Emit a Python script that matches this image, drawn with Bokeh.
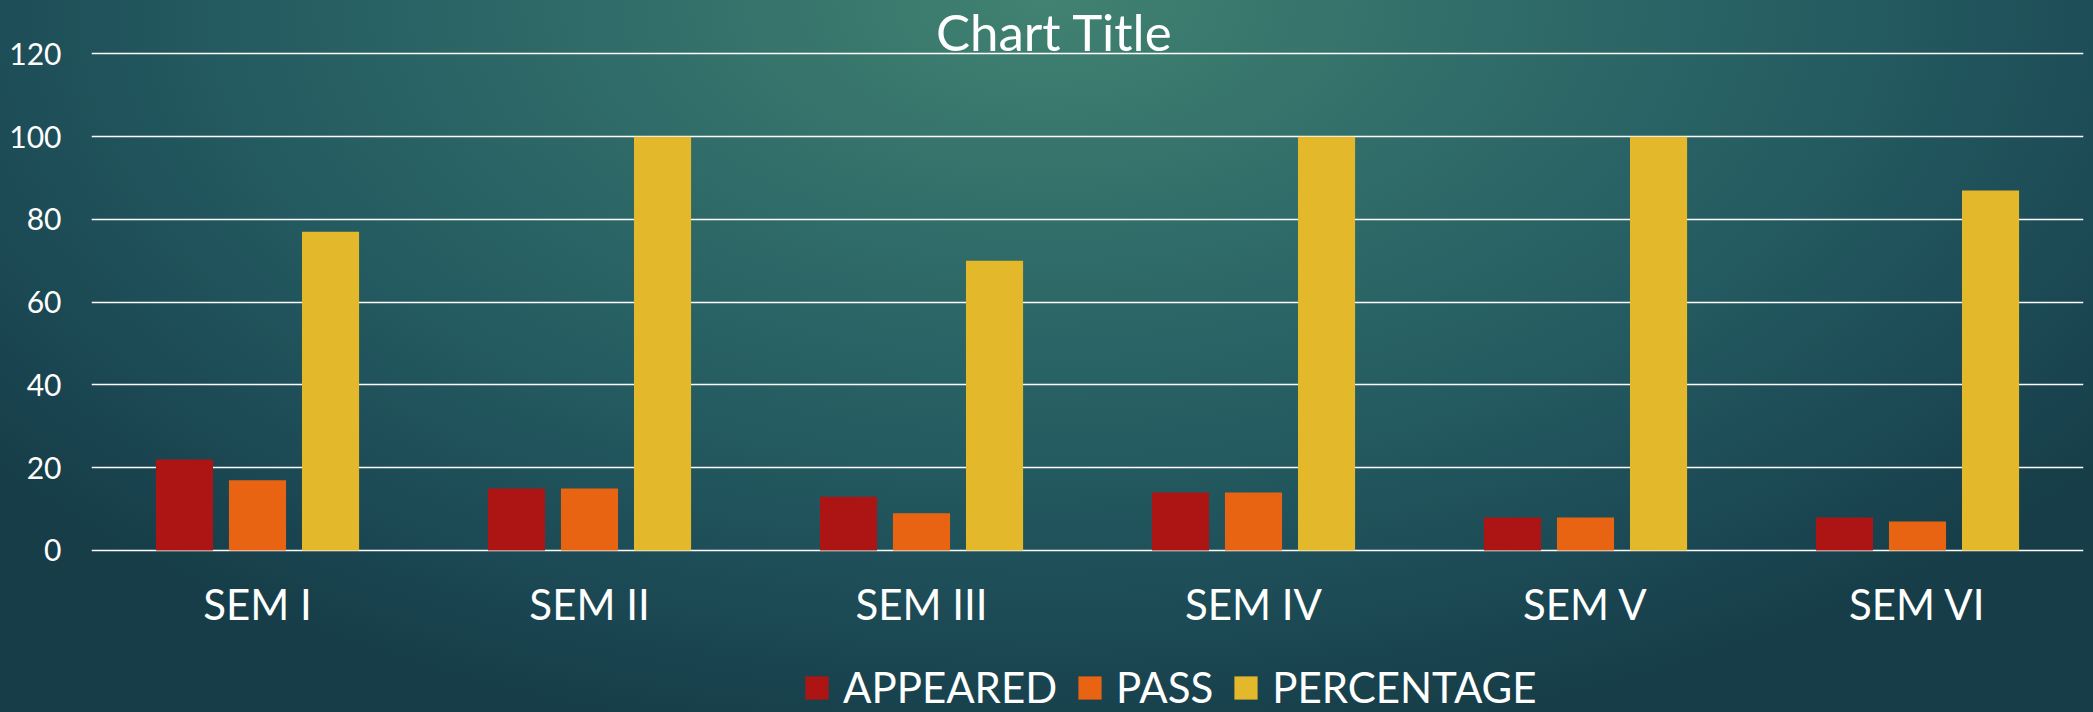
from bokeh.plotting import figure
from bokeh.models import (FactorRange, Range1d, FixedTicker, ColumnDataSource, Legend,
                          LegendItem, Label, GlobalInlineStyleSheet)
from bokeh.transform import dodge
from bokeh.embed import file_html
from bokeh.resources import INLINE

# ---- data ----
semesters = ["SEM I", "SEM II", "SEM III", "SEM IV", "SEM V", "SEM VI"]
appeared = [22, 15, 13, 14, 8, 8]
passed = [17, 15, 9, 14, 8, 7]
percentage = [77, 100, 70, 100, 100, 87]
series_names = ["APPEARED", "PASS", "PERCENTAGE"]
series_colors = ["#AD1515", "#E86412", "#E4B82B"]
y_ticks = [0, 20, 40, 60, 80, 100, 120]
title_text = "Chart Title"

FONT = "Lato"
W, H = 2093, 712

src = ColumnDataSource(dict(sem=semesters, appeared=appeared, passed=passed, percentage=percentage))

# frame spans the full lower area; the category axis is pinned at y = 0
p = figure(width=W, height=H,
           x_range=FactorRange(factors=semesters, range_padding=0),
           y_range=Range1d(-39.15, 130),
           output_backend="svg", toolbar_location=None,
           min_border_left=91, min_border_right=10, min_border_top=12, min_border_bottom=0)

p.stylesheets.append(GlobalInlineStyleSheet(css="""
html { background: radial-gradient(ellipse 1350px 760px at 50% 0%, #418271 0%, #306c69 33%, #245b61 60%, #1b4853 85%, #163d48 100%) !important; min-height: 100%; }
body { background: transparent !important; }
"""))

p.background_fill_alpha = 0
p.border_fill_alpha = 0
p.outline_line_color = None

cols = ["appeared", "passed", "percentage"]
offsets = [-0.22, 0.0, 0.22]
renderers = []
for c, off, col in zip(cols, offsets, series_colors):
    r = p.vbar(x=dodge("sem", off, range=p.x_range), top=c, bottom=0, width=0.172, source=src,
               fill_color=col, line_color=None)
    renderers.append(r)

# grid
p.xgrid.grid_line_color = None
p.ygrid.grid_line_color = "white"
p.ygrid.grid_line_width = 1.6
p.yaxis.ticker = FixedTicker(ticks=y_ticks)
p.ygrid.ticker = FixedTicker(ticks=y_ticks)

for ax in (p.xaxis[0], p.yaxis[0]):
    ax.axis_line_color = None
    ax.major_tick_line_color = None
    ax.minor_tick_line_color = None
    ax.major_tick_out = 0
    ax.major_tick_in = 0
    ax.major_label_text_color = "white"
    ax.major_label_text_font = FONT

p.xaxis.fixed_location = 0
p.xaxis.major_label_text_font_size = "42px"
p.xaxis.major_label_standoff = 29
p.yaxis.major_label_text_font_size = "30px"
p.yaxis.major_label_standoff = 30

# title
p.add_layout(Label(x=963, y=681, x_units="screen", y_units="screen", text=title_text,
                   text_align="center", text_baseline="alphabetic",
                   text_font=FONT, text_font_size="51px", text_color="white"))

# legend
items = [LegendItem(label=n, renderers=[r]) for n, r in zip(series_names, renderers)]
legend = Legend(items=items, orientation="horizontal", location=(711, 0),
                glyph_width=29, glyph_height=29, label_standoff=12, spacing=18,
                padding=0, margin=0, border_line_color=None, background_fill_alpha=0,
                label_text_color="white", label_text_font=FONT, label_text_font_size="42px")
p.add_layout(legend)

open("out.html", "w").write(file_html(p, INLINE))
